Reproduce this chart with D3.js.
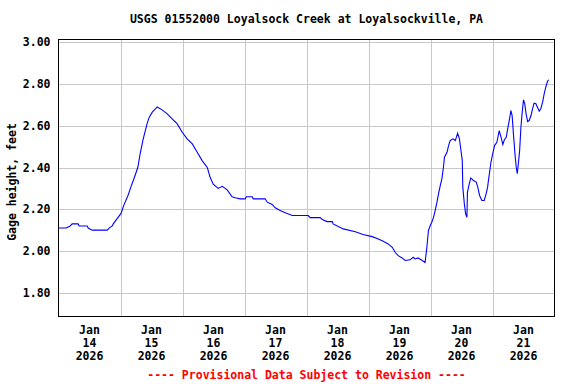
<!DOCTYPE html>
<html>
<head>
<meta charset="utf-8">
<script src="https://cdn.jsdelivr.net/npm/d3@7"></script>
<style>
  body { margin: 0; background: #fff; }
  text { font-family: "DejaVu Sans Mono", "Liberation Mono", monospace; font-weight: bold; font-size: 11.5px; }
</style>
</head>
<body>
<script>
// gage height readings, hours after 2026-01-14 00:00
var startTime = new Date(2026, 0, 14, 0, 0);
var hours = [0, 3, 4.5, 5.3, 7.6, 8, 11.1, 11.5, 13, 18.9, 19.6, 20.8, 21.2, 22.7, 24.2, 25.3, 26.9, 28, 29.2, 30.7,
  31.6, 32.8, 34.3, 35.1, 36.3, 37.4, 38.2, 40.1, 42.1, 44, 45.9, 47.9, 49.8, 51.8, 53.7, 55.6, 57.6, 58.7, 59.9, 61.8,
  63.4, 65.3, 67.2, 68.4, 70.3, 72.3, 72.7, 75, 75.4, 80, 80.8, 82.7, 83.9, 85.8, 87.8, 90.5, 96.7, 97.4, 101.3, 102.1,
  104, 106, 106.3, 108.3, 110.2, 114.9, 117.9, 121.4, 123.8, 125.7, 127.6, 129.2, 130.3, 131.5, 133, 134.2, 136.1, 137.3, 138.1, 139.2,
  140.8, 141.9, 142.6, 143.2, 143.9, 144.5, 145.2, 145.8, 146.5, 147.1, 147.8, 148.4, 149, 149.4, 150.4, 151, 151.6, 152.7, 153.6, 154.5,
  155.2, 155.8, 156.3, 156.5, 157.1, 157.6, 158.1, 158.3, 159, 159.6, 160.6, 161.7, 162.3, 163, 163.9, 164.8, 165.6, 166.1, 166.7, 167.4,
  168.2, 168.8, 169.7, 170.6, 171.3, 172, 172.6, 173.3, 174, 174.6, 175.1, 175.6, 176.1, 176.7, 177.2, 177.6, 178, 178.5, 179, 179.5,
  180, 180.5, 181, 181.6, 182.2, 182.9, 183.5, 184.1, 184.8, 185.4, 186.1, 186.7, 187.4, 188, 188.7, 189.3, 189.7];
var gage = [2.11, 2.11, 2.12, 2.13, 2.13, 2.12, 2.12, 2.11, 2.10, 2.10, 2.11, 2.12, 2.13, 2.155, 2.18, 2.22, 2.266, 2.306, 2.346, 2.40,
  2.465, 2.537, 2.61, 2.64, 2.665, 2.68, 2.69, 2.676, 2.657, 2.633, 2.61, 2.569, 2.537, 2.513, 2.473, 2.433, 2.40, 2.353, 2.32, 2.30,
  2.31, 2.293, 2.26, 2.255, 2.25, 2.25, 2.26, 2.26, 2.25, 2.25, 2.234, 2.223, 2.207, 2.194, 2.183, 2.17, 2.17, 2.16, 2.16, 2.151,
  2.141, 2.141, 2.13, 2.117, 2.106, 2.092, 2.079, 2.069, 2.058, 2.047, 2.034, 2.018, 1.994, 1.978, 1.967, 1.955, 1.958, 1.97, 1.962, 1.967,
  1.955, 1.945, 2.018, 2.098, 2.122, 2.138, 2.162, 2.194, 2.234, 2.274, 2.314, 2.346, 2.40, 2.449, 2.473, 2.505, 2.529, 2.537, 2.529, 2.564,
  2.537, 2.48, 2.433, 2.306, 2.226, 2.178, 2.162, 2.282, 2.322, 2.35, 2.338, 2.33, 2.306, 2.266, 2.242, 2.242, 2.277, 2.306, 2.362, 2.425,
  2.473, 2.505, 2.521, 2.577, 2.545, 2.51, 2.533, 2.545, 2.593, 2.633, 2.673, 2.649, 2.561, 2.465, 2.40, 2.37, 2.418, 2.481, 2.593, 2.665,
  2.724, 2.705, 2.657, 2.62, 2.625, 2.649, 2.681, 2.708, 2.705, 2.689, 2.67, 2.681, 2.713, 2.753, 2.788, 2.813, 2.82];

var days = [14, 15, 16, 17, 18, 19, 20, 21];
var yTicks = [1.80, 2.00, 2.20, 2.40, 2.60, 2.80, 3.00];
var title = "USGS 01552000 Loyalsock Creek at Loyalsockville, PA";
var yTitle = "Gage height, feet";
var note = "---- Provisional Data Subject to Revision ----";

var data = hours.map(function(h, i) {
  return {t: new Date(startTime.getTime() + h * 3600e3), v: gage[i]};
});

var W = 576, H = 384;
var L = 58.5, R = 554.5, T = 39.5, B = 316.5;

var svg = d3.select("body").append("svg").attr("width", W).attr("height", H);

var x = d3.scaleTime()
  .domain([new Date(2026, 0, 14), new Date(2026, 0, 22)])
  .range([L, R]);
var y = d3.scaleLinear().domain([1.6865, 3.013]).range([B, T]);

// grid
svg.append("g").selectAll("line").data(days.slice(1)).enter().append("line")
  .attr("x1", function(d) { return Math.round(x(new Date(2026, 0, d))) + 0.5; })
  .attr("x2", function(d) { return Math.round(x(new Date(2026, 0, d))) + 0.5; })
  .attr("y1", T).attr("y2", B)
  .style("stroke", "#c8c8c8").style("shape-rendering", "crispEdges");
svg.append("g").selectAll("line").data(yTicks).enter().append("line")
  .attr("x1", L).attr("x2", R)
  .attr("y1", function(d) { return Math.round(y(d)) + 0.5; })
  .attr("y2", function(d) { return Math.round(y(d)) + 0.5; })
  .style("stroke", "#c8c8c8").style("shape-rendering", "crispEdges");

// y axis labels
var yAxis = svg.append("g")
  .attr("transform", "translate(" + L + ",0)")
  .call(d3.axisLeft(y).tickValues(yTicks).tickSize(0).tickPadding(8).tickFormat(d3.format(".2f")));
yAxis.select(".domain").remove();
yAxis.selectAll("text").attr("font-family", null).attr("font-size", null).style("fill", "#000");

// data line
var line = d3.line()
  .x(function(d) { return x(d.t); })
  .y(function(d) { return y(d.v); });
svg.append("path")
  .datum(data)
  .attr("d", line)
  .style("fill", "none")
  .style("stroke", "#0000ff")
  .style("stroke-width", 1.1);

// frame
svg.append("rect")
  .attr("x", L).attr("y", T).attr("width", R - L).attr("height", B - T)
  .style("fill", "none").style("stroke", "#000").style("shape-rendering", "crispEdges");

// x labels, centred on noon of each day
var xl = svg.append("g").selectAll("text").data(days).enter().append("text")
  .attr("text-anchor", "middle")
  .attr("transform", function(d) { return "translate(" + x(new Date(2026, 0, d, 12)) + ",0)"; });
xl.append("tspan").attr("x", 0).attr("y", 334).text("Jan");
xl.append("tspan").attr("x", 0).attr("y", 347).text(function(d) { return d; });
xl.append("tspan").attr("x", 0).attr("y", 360).text("2026");

// titles
svg.append("text").attr("x", (L + R) / 2).attr("y", 23).attr("text-anchor", "middle").text(title);
svg.append("text")
  .attr("transform", "translate(16,182) rotate(-90)")
  .attr("text-anchor", "middle").text(yTitle);
svg.append("text").attr("x", (L + R) / 2).attr("y", 379).attr("text-anchor", "middle")
  .style("fill", "#ff0000").text(note);
</script>
</body>
</html>
